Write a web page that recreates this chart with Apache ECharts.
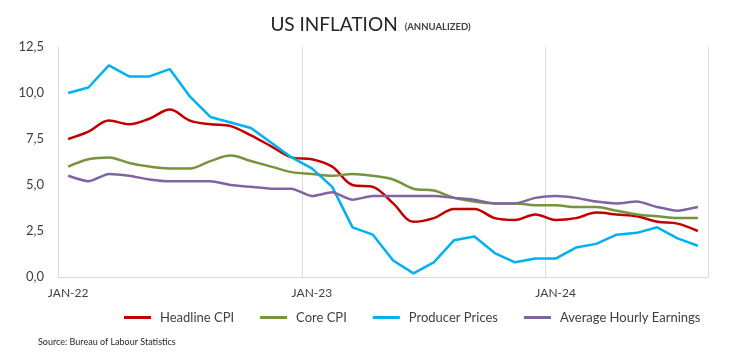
<!DOCTYPE html>
<html>
<head>
<meta charset="utf-8">
<script src="https://cdn.jsdelivr.net/npm/echarts@6/dist/echarts.min.js"></script>
<style>
html,body{margin:0;padding:0;background:#fff;}
#c{width:741px;height:363px;}
</style>
</head>
<body>
<div id="c"></div>
<script>
const categories = [
  'JAN-22','FEB-22','MAR-22','APR-22','MAY-22','JUN-22','JUL-22','AUG-22','SEP-22','OCT-22','NOV-22','DEC-22',
  'JAN-23','FEB-23','MAR-23','APR-23','MAY-23','JUN-23','JUL-23','AUG-23','SEP-23','OCT-23','NOV-23','DEC-23',
  'JAN-24','FEB-24','MAR-24','APR-24','MAY-24','JUN-24','JUL-24','AUG-24'
];
const headlineCPI = [7.5,7.9,8.5,8.3,8.6,9.1,8.5,8.3,8.2,7.7,7.1,6.5, 6.4,6.0,5.0,4.9,4.0,3.0,3.2,3.7,3.7,3.2,3.1,3.4, 3.1,3.2,3.5,3.4,3.3,3.0,2.9,2.5];
const coreCPI = [6.0,6.4,6.5,6.2,6.0,5.9,5.9,6.3,6.6,6.3,6.0,5.7, 5.6,5.5,5.6,5.5,5.3,4.8,4.7,4.3,4.1,4.0,4.0,3.9, 3.9,3.8,3.8,3.6,3.4,3.3,3.2,3.2];
const producerPrices = [10.0,10.3,11.5,10.9,10.9,11.3,9.8,8.7,8.4,8.1,7.3,6.5, 5.9,4.9,2.7,2.3,0.9,0.2,0.8,2.0,2.2,1.3,0.8,1.0, 1.0,1.6,1.8,2.3,2.4,2.7,2.1,1.7];
const avgHourlyEarnings = [5.5,5.2,5.6,5.5,5.3,5.2,5.2,5.2,5.0,4.9,4.8,4.8, 4.4,4.6,4.2,4.4,4.4,4.4,4.4,4.3,4.2,4.0,4.0,4.3, 4.4,4.3,4.1,4.0,4.1,3.8,3.6,3.8];
const yTicks = { min: 0, max: 12.5, interval: 2.5 };

const FONT = 'Lato, "Open Sans", sans-serif';
const chart = echarts.init(document.getElementById('c'), null, {renderer:'canvas'});
function mk(name, data, color, smooth){
  return {name, type:'line', data, symbol:'none', smooth: smooth,
    lineStyle:{color, width:2.5}, itemStyle:{color}, z: 3};
}
chart.setOption({
  animation:false,
  backgroundColor:'#fff',
  title:[{
    text:'{a|US INFLATION} {b|(ANNUALIZED)}',
    left:'center', top:10,
    textStyle:{rich:{
      a:{fontFamily:FONT, fontSize:19, color:'#262626', fontWeight:'normal'},
      b:{fontFamily:FONT, fontSize:9.5, color:'#404040', padding:[4,0,0,2]}
    }}
  },{
    text:'Source: Bureau of Labour Statistics',
    left:33, top:333,
    textStyle:{fontFamily:FONT, fontSize:9, color:'#262626', fontWeight:'normal'}
  }],
  legend:{
    left:119, top:306,
    icon:'rect', itemWidth:27, itemHeight:3, itemGap:26,
    textStyle:{fontFamily:FONT, fontSize:13, color:'#404040', padding:[0,0,0,4]},
    data:['Headline CPI','Core CPI','Producer Prices','Average Hourly Earnings']
  },
  grid:{left:58, right:33, top:47, bottom:86},
  xAxis:{
    type:'category', data:categories, boundaryGap:true,
    axisLine:{lineStyle:{color:'#d9d9d9', width:1}},
    axisTick:{show:false},
    axisLabel:{interval:11, fontFamily:FONT, fontSize:12, color:'#404040', margin:10},
    splitLine:{show:true, interval:11, lineStyle:{color:'#d9d9d9', width:1}}
  },
  yAxis:{
    type:'value', min:yTicks.min, max:yTicks.max, interval:yTicks.interval,
    axisLine:{show:true, lineStyle:{color:'#d9d9d9'}},
    axisTick:{show:false},
    splitLine:{show:false},
    axisLabel:{fontFamily:FONT, fontSize:13, color:'#404040', margin:14,
      formatter:v=>v.toFixed(1).replace('.', ',')}
  },
  series:[
    mk('Headline CPI', headlineCPI, '#C00000', 0.35),
    mk('Core CPI', coreCPI, '#77933C', 0.35),
    mk('Producer Prices', producerPrices, '#00B0F0', false),
    mk('Average Hourly Earnings', avgHourlyEarnings, '#8064A2', 0.2)
  ]
});
</script>
</body>
</html>
